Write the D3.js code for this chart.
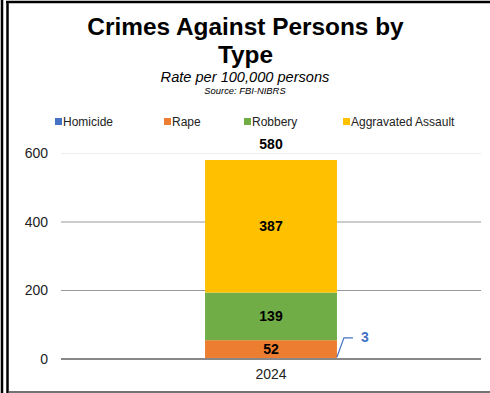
<!DOCTYPE html>
<html>
<head>
<meta charset="utf-8">
<script src="https://cdn.jsdelivr.net/npm/d3@7"></script>
<style>
  body { margin: 0; background: #fff; }
  svg { display: block; font-family: "Liberation Sans", Arial, sans-serif; }
</style>
</head>
<body>
<svg id="chart" width="490" height="393"></svg>
<script>
// chart values
var years = ['2024'];
var categories = ['Homicide', 'Rape', 'Robbery', 'Aggravated Assault'];
var colors = ['#4472C4', '#ED7D31', '#70AD47', '#FFC000'];
var values = [3, 52, 139, 387];
var totals = [580];
var yTicks = [0, 200, 400, 600];

(function(d3) {
  'use strict';

  var svg = d3.select('#chart');
  var width = 490, height = 393;

  // frame
  svg.append('rect').attr('x', 0).attr('y', 0).attr('width', width).attr('height', height).attr('fill', '#fff');
  svg.append('line').attr('x1', 2).attr('x2', 2).attr('y1', 0).attr('y2', height)
    .attr('stroke', '#000').attr('stroke-width', 2.5);
  svg.append('line').attr('x1', 7.5).attr('x2', 7.5).attr('y1', 2).attr('y2', height)
    .attr('stroke', '#000').attr('stroke-width', 2.5);
  svg.append('line').attr('x1', 6).attr('x2', width).attr('y1', 2).attr('y2', 2)
    .attr('stroke', '#000').attr('stroke-width', 2.5);
  svg.append('line').attr('x1', 8).attr('x2', width).attr('y1', 392).attr('y2', 392)
    .attr('stroke', '#444').attr('stroke-width', 1.5);

  // titles
  svg.append('text').attr('x', 245.5).attr('y', 35).attr('text-anchor', 'middle')
    .attr('font-size', 24.4).attr('font-weight', 'bold').text('Crimes Against Persons by');
  svg.append('text').attr('x', 245.5).attr('y', 63).attr('text-anchor', 'middle')
    .attr('font-size', 24.4).attr('font-weight', 'bold').text('Type');
  svg.append('text').attr('x', 245).attr('y', 82).attr('text-anchor', 'middle')
    .attr('font-size', 14.6).attr('font-style', 'italic').text('Rate per 100,000 persons');
  svg.append('text').attr('x', 245).attr('y', 93.5).attr('text-anchor', 'middle')
    .attr('font-size', 9.4).attr('font-style', 'italic').text('Source: FBI-NIBRS');

  // legend
  var legendX = [55, 164, 244, 343];
  var legend = svg.selectAll('g.legend').data(categories).enter().append('g')
    .attr('transform', function(d, i) { return 'translate(' + legendX[i] + ',118)'; });
  legend.append('rect').attr('width', 7).attr('height', 7).attr('y', 0)
    .attr('fill', function(d, i) { return colors[i]; });
  legend.append('text').attr('x', 8).attr('y', 7.5).attr('font-size', 12).attr('fill', '#222')
    .text(function(d) { return d; });

  // scales
  var margin = { left: 61, right: 481, top: 153.5, bottom: 359 };
  var x = d3.scaleBand().domain(years).range([margin.left, margin.right]);
  var bandX = d3.scaleBand().domain(years).range([margin.left, margin.right]).padding(0.522);
  var y = d3.scaleLinear().domain([0, 600]).range([margin.bottom, margin.top]);

  // grid
  svg.selectAll('line.grid').data(yTicks.filter(function(t) { return t > 0; })).enter().append('line')
    .attr('x1', margin.left).attr('x2', margin.right)
    .attr('y1', function(d) { return y(d); }).attr('y2', function(d) { return y(d); })
    .attr('stroke', function(d) { return d === 600 ? '#eeeeee' : '#999'; })
    .attr('stroke-width', 1);

  // y axis labels
  var yAxis = d3.axisLeft(y).tickValues(yTicks).tickSize(0).tickPadding(13);
  var gy = svg.append('g').attr('transform', 'translate(' + margin.left + ',0)').call(yAxis);
  gy.select('.domain').remove();
  gy.selectAll('text').attr('font-size', 14).attr('fill', '#222')
    .attr('font-family', '"Liberation Sans", Arial, sans-serif');

  // stacked bar
  var stackRows = [{ year: years[0] }];
  categories.forEach(function(c, i) { stackRows[0][c] = values[i]; });
  var series = d3.stack().keys(categories)(stackRows);

  svg.selectAll('g.series').data(series).enter().append('g')
    .attr('fill', function(d, i) { return colors[i]; })
    .selectAll('rect').data(function(d) { return d; }).enter().append('rect')
    .attr('x', function(d) { return bandX(d.data.year); })
    .attr('width', bandX.bandwidth())
    .attr('y', function(d) { return y(d[1]); })
    .attr('height', function(d) { return y(d[0]) - y(d[1]); });

  // zero axis
  svg.append('line').attr('x1', margin.left).attr('x2', margin.right)
    .attr('y1', y(0)).attr('y2', y(0)).attr('stroke', '#888').attr('stroke-width', 2);

  // x axis label
  var xAxis = d3.axisBottom(x).tickSize(0).tickPadding(10);
  var gx = svg.append('g').attr('transform', 'translate(0,' + y(0) + ')').call(xAxis);
  gx.select('.domain').remove();
  gx.selectAll('text').attr('font-size', 14).attr('fill', '#222')
    .attr('font-family', '"Liberation Sans", Arial, sans-serif');

  // segment labels
  var cx = bandX(years[0]) + bandX.bandwidth() / 2;
  series.forEach(function(s, i) {
    var d = s[0];
    if (i === 0) {
      // homicide leader label
      var bx = bandX(years[0]) + bandX.bandwidth();
      svg.append('path')
        .attr('d', d3.line()([[bx, y(d[1]) - 1], [bx + 7, y(50) - 4], [bx + 16, y(50) - 4]]))
        .attr('fill', 'none').attr('stroke', '#4472C4').attr('stroke-width', 1.2);
      svg.append('text').attr('x', bx + 24).attr('y', y(50)).attr('font-size', 14)
        .attr('font-weight', 'bold').attr('fill', '#4472C4').text(values[i]);
      return;
    }
    svg.append('text').attr('x', cx).attr('y', (y(d[0]) + y(d[1])) / 2 + 5)
      .attr('text-anchor', 'middle').attr('font-size', 14).attr('font-weight', 'bold')
      .text(values[i]);
  });

  // total
  svg.append('text').attr('x', cx).attr('y', y(totals[0]) - 11)
    .attr('text-anchor', 'middle').attr('font-size', 14).attr('font-weight', 'bold')
    .text(totals[0]);

})(window.d3);
</script>
</body>
</html>
